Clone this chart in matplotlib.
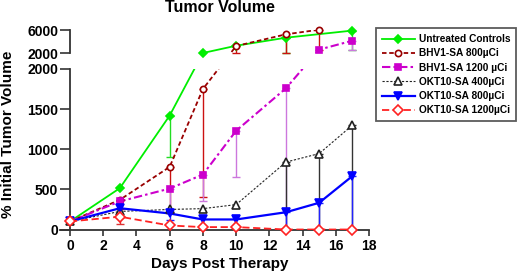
import numpy as np
import matplotlib
matplotlib.use("Agg")
import matplotlib.pyplot as plt
from matplotlib.lines import Line2D
from matplotlib.ticker import FixedLocator, NullLocator

plt.rcParams['font.family'] = ['Liberation Sans', 'DejaVu Sans']
plt.rcParams['font.weight'] = 'bold'

# ---------------- data ----------------
labels = ["Untreated Controls", "BHV1-SA 800\u00b5Ci", "BHV1-SA 1200 \u00b5Ci",
          "OKT10-SA 400\u00b5Ci", "OKT10-SA 800\u00b5Ci", "OKT10-SA 1200\u00b5Ci"]

ctrl_days = [0, 3, 6, 8, 10, 13, 17]
ctrl_vals = [100, 515, 1420, 2050, 3300, 4680, 5900]
ctrl_low = [100, 515, 905, 2050, 3300, 2050, 2600]

bhv800_days = [0, 3, 6, 8, 10, 13, 15]
bhv800_vals = [100, 370, 780, 1750, 3250, 5260, 6050]
bhv800_low = [100, 370, 200, 405, 2050, 2050, 2640]

bhv1200_days = [0, 3, 6, 8, 10, 13, 15, 17]
bhv1200_vals = [100, 350, 510, 685, 1230, 1760, 2640, 4160]
bhv1200_low = [100, 350, 240, 360, 655, 0, 2640, 2650]

okt400_days = [0, 3, 6, 8, 10, 13, 15, 17]
okt400_vals = [100, 225, 250, 260, 310, 840, 946, 1300]
okt400_low = [100, 225, 250, 260, 310, 0, 0, 0]

okt800_days = [0, 3, 6, 8, 10, 13, 15, 17]
okt800_vals = [100, 265, 200, 125, 125, 215, 333, 666]
okt800_low = [100, 265, 120, 125, 125, 0, 0, 0]

okt1200_days = [0, 3, 6, 8, 10, 13, 15, 17]
okt1200_vals = [100, 160, 50, 30, 30, 0, 0, 0]
okt1200_low = [100, 70, 50, 30, 30, 0, 0, 0]
okt1200_high = [100, 250, 50, 30, 30, 0, 0, 0]

x_ticks = [0, 2, 4, 6, 8, 10, 12, 14, 16, 18]
y_ticks_low = [0, 500, 1000, 1500, 2000]
y_ticks_high = [2000, 6000]

# ---------------- styles ----------------
series = [
    dict(d=ctrl_days, v=ctrl_vals, lo=ctrl_low, hi=None, color='#00ee00', ecolor='#22dd22',
         ls='-', lw=1.3, marker='D', ms=4.5, mfc='#00ee00'),
    dict(d=bhv800_days, v=bhv800_vals, lo=bhv800_low, hi=None, color='#990000', ecolor='#cc1111',
         ls=(0, (2.5, 1.5)), lw=1.3, marker='o', ms=4.5, mfc='white'),
    dict(d=bhv1200_days, v=bhv1200_vals, lo=bhv1200_low, hi=None, color='#cc00cc', ecolor='#cc77dd',
         ls=(0, (4, 1.5, 1.2, 1.5)), lw=1.5, marker='s', ms=4.5, mfc='#cc00cc'),
    dict(d=okt400_days, v=okt400_vals, lo=okt400_low, hi=None, color='#222222', ecolor='#333333',
         ls=(0, (2, 1.5)), lw=0.8, marker='^', ms=5.5, mfc='white'),
    dict(d=okt800_days, v=okt800_vals, lo=okt800_low, hi=None, color='#0000ff', ecolor='#2222ff',
         ls='-', lw=1.6, marker='v', ms=5.5, mfc='#0000ff'),
    dict(d=okt1200_days, v=okt1200_vals, lo=okt1200_low, hi=okt1200_high, color='#ff2222',
         ecolor='#dd3333', ls=(0, (4, 2)), lw=1.3, marker='D', ms=5, mfc='white'),
]

# ---------------- figure & broken axis ----------------
W, H = 520, 274
fig = plt.figure(figsize=(W / 100, H / 100), dpi=100)
left, right = 70, 369
low_top_px, low_bot_px = 69.0, 229.5
up_top_px, up_bot_px = 30.0, 53.3

ax_b = fig.add_axes([left / W, 1 - low_bot_px / H, (right - left) / W, (low_bot_px - low_top_px) / H])
ax_t = fig.add_axes([left / W, 1 - up_bot_px / H, (right - left) / W, (up_bot_px - up_top_px) / H],
                    sharex=ax_b)

BREAK = 2000.0
TOP = 6000.0
units_per_px = BREAK / (low_bot_px - low_top_px)
G = (low_top_px - up_bot_px) * units_per_px
K = ((up_bot_px - up_top_px) / (TOP - BREAK)) * units_per_px


def make_scale(strict):
    def fwd(y):
        y = np.asarray(y, dtype=float)
        hi = (y >= BREAK) if strict else (y > BREAK)
        return np.where(hi, BREAK + G + (y - BREAK) * K, y)

    def inv(v):
        v = np.asarray(v, dtype=float)
        return np.where(v > BREAK + G / 2, BREAK + (v - BREAK - G) / K, v)
    return fwd, inv


ax_b.set_yscale('function', functions=make_scale(False))
ax_t.set_yscale('function', functions=make_scale(True))
ax_b.set_ylim(0, BREAK)
ax_t.set_ylim(BREAK, TOP)
ax_b.set_xlim(0, 18)

for s in series:
    for ax in (ax_b, ax_t):
        ax.plot(s['d'], s['v'], color=s['color'], ls=s['ls'], lw=s['lw'], clip_on=True, zorder=3)
    d = np.array(s['d'])
    v = np.array(s['v'], dtype=float)
    lo = np.array(s['lo'], dtype=float)
    hi = np.array(s['hi'], dtype=float) if s['hi'] is not None else v
    for ax, mask in ((ax_b, v <= BREAK), (ax_t, v > BREAK)):
        if not mask.any():
            continue
        err_lo = v[mask] - lo[mask]
        err_hi = hi[mask] - v[mask]
        show = (err_lo > 0) | (err_hi > 0)
        if show.any():
            ax.errorbar(d[mask][show], v[mask][show],
                        yerr=[err_lo[show], err_hi[show]], fmt='none',
                        ecolor=s['ecolor'], elinewidth=1.0, capsize=3, capthick=1.0,
                        clip_on=False, zorder=2)
        ax.plot(d[mask], v[mask], ls='none', marker=s['marker'], ms=s['ms'],
                mfc=s['mfc'], mec=s['color'], mew=1.2, clip_on=False, zorder=4)

spine_c = '#333333'
for ax in (ax_b, ax_t):
    ax.set_facecolor('none')
    for sp in ('top', 'right'):
        ax.spines[sp].set_visible(False)
    ax.spines['left'].set_color(spine_c)
    ax.spines['left'].set_linewidth(1.3)
    ax.tick_params(axis='y', direction='out', length=7.5, width=1.2, color=spine_c,
                   labelsize=10, pad=1)

ax_t.spines['bottom'].set_visible(False)
ax_t.tick_params(axis='x', which='both', bottom=False, labelbottom=False)
ax_b.spines['bottom'].set_color(spine_c)
ax_b.spines['bottom'].set_linewidth(1.3)
ax_b.spines['bottom'].set_bounds(-0.6, 18)
ax_b.tick_params(axis='x', direction='out', length=4.5, width=1.2, color=spine_c,
                 labelsize=10, pad=2)

ax_b.xaxis.set_major_locator(FixedLocator(x_ticks))
ax_b.yaxis.set_major_locator(FixedLocator(y_ticks_low))
ax_t.yaxis.set_major_locator(FixedLocator(y_ticks_high))
for ax in (ax_b, ax_t):
    ax.yaxis.set_minor_locator(NullLocator())
    ax.set_yticklabels([str(t) for t in ax.get_yticks()], fontweight='bold')
ax_b.set_xticklabels([str(t) for t in x_ticks], fontweight='bold')
ax_b.spines['left'].set_bounds(0, BREAK)

ax_b.set_xlabel('Days Post Therapy', fontsize=11, fontweight='bold', labelpad=3)
fig.text(0.016, 0.51, '% Initial Tumor Volume', rotation=90, ha='center', va='center',
         fontsize=11, fontweight='bold')
fig.text((left + right) / 2 / W, 1 - 8 / H, 'Tumor Volume', ha='center', va='center',
         fontsize=11.5, fontweight='bold')

handles = [Line2D([], [], color=s['color'], ls=s['ls'], lw=s['lw'], marker=s['marker'],
                  ms=s['ms'], mfc=s['mfc'], mec=s['color'], mew=1.2) for s in series]
leg = fig.legend(handles, labels, loc='upper left', bbox_to_anchor=(376 / W, 1 - 28 / H),
                 prop=dict(family='Liberation Sans', weight='bold', size=7.3),
                 frameon=True, fancybox=False, borderaxespad=0, handlelength=3.2,
                 labelspacing=0.42, handletextpad=0.4, borderpad=0.6)
leg.get_frame().set_edgecolor('#333333')
leg.get_frame().set_linewidth(1.3)

fig.savefig('out.png', dpi=100)
